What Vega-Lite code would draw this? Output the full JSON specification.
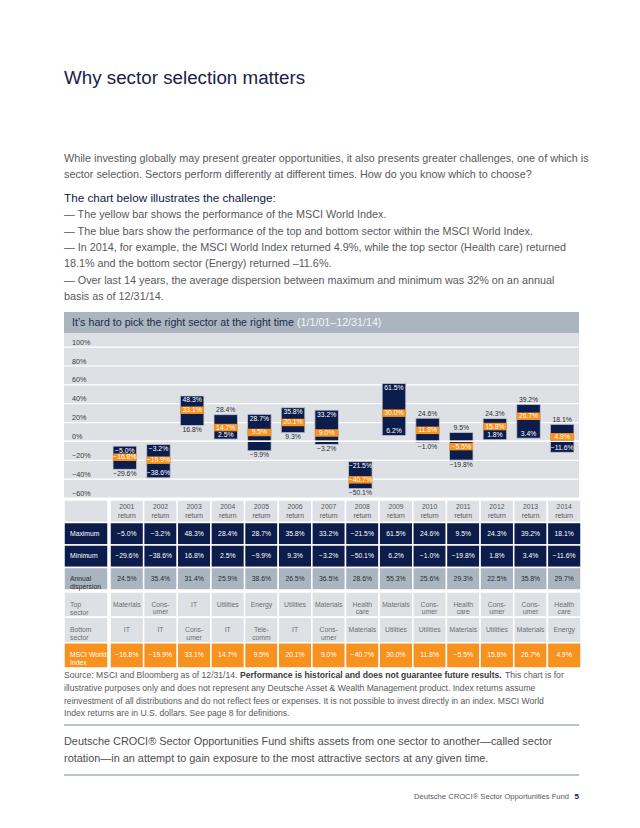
{
 "$schema": "https://vega.github.io/schema/vega-lite/v6.json",
 "background": "#ffffff",
 "padding": {"left": 63, "right": 62, "top": 69, "bottom": 0},
 "spacing": 0,
 "config": {"font": "Liberation Sans", "view": {"stroke": null}, "concat": {"spacing": 0}, "title": {"font": "Liberation Sans", "subtitleFont": "Liberation Sans"}},
 "resolve": {"scale": {"x": "independent", "y": "independent"}},
 "title": {
  "text": "Why sector selection matters",
  "subtitle": ["While investing globally may present greater opportunities, it also presents greater challenges, one of which is", "sector selection. Sectors perform differently at different times. How do you know which to choose?"],
  "anchor": "start", "frame": "group",
  "fontSize": 18.8, "fontWeight": "normal", "color": "#1b2147",
  "subtitleFontSize": 10.8, "subtitleColor": "#58595b", "subtitleLineHeight": 16, "subtitlePadding": 65,
  "offset": 13
 },
 "datasets": {
  "years": [
   {"year": "2001", "max": -0.050, "min": -0.296, "idx": -0.168, "disp": 0.245, "top": "Materials", "bottom": "IT"},
   {"year": "2002", "max": -0.032, "min": -0.386, "idx": -0.199, "disp": 0.354, "top": "Cons-\numer\nstaples", "bottom": "IT"},
   {"year": "2003", "max": 0.483, "min": 0.168, "idx": 0.331, "disp": 0.314, "top": "IT", "bottom": "Cons-\numer\nstaples"},
   {"year": "2004", "max": 0.284, "min": 0.025, "idx": 0.147, "disp": 0.259, "top": "Utilities", "bottom": "IT"},
   {"year": "2005", "max": 0.287, "min": -0.099, "idx": 0.095, "disp": 0.386, "top": "Energy", "bottom": "Tele-\ncomm\nservices"},
   {"year": "2006", "max": 0.358, "min": 0.093, "idx": 0.201, "disp": 0.265, "top": "Utilities", "bottom": "IT"},
   {"year": "2007", "max": 0.332, "min": -0.032, "idx": 0.090, "disp": 0.365, "top": "Materials", "bottom": "Cons-\numer\ndisc."},
   {"year": "2008", "max": -0.215, "min": -0.501, "idx": -0.407, "disp": 0.286, "top": "Health\ncare", "bottom": "Materials"},
   {"year": "2009", "max": 0.615, "min": 0.062, "idx": 0.300, "disp": 0.553, "top": "Materials", "bottom": "Utilities"},
   {"year": "2010", "max": 0.246, "min": -0.010, "idx": 0.118, "disp": 0.256, "top": "Cons-\numer\ndisc.", "bottom": "Utilities"},
   {"year": "2011", "max": 0.095, "min": -0.198, "idx": -0.055, "disp": 0.293, "top": "Health\ncare", "bottom": "Materials"},
   {"year": "2012", "max": 0.243, "min": 0.018, "idx": 0.158, "disp": 0.225, "top": "Cons-\numer\ndisc.", "bottom": "Utilities"},
   {"year": "2013", "max": 0.392, "min": 0.034, "idx": 0.267, "disp": 0.358, "top": "Cons-\numer\ndisc.", "bottom": "Materials"},
   {"year": "2014", "max": 0.181, "min": -0.116, "idx": 0.049, "disp": 0.297, "top": "Health\ncare", "bottom": "Energy"}
  ],
  "ticks": [
   {"v": -0.6}, {"v": -0.4}, {"v": -0.2}, {"v": 0}, {"v": 0.2}, {"v": 0.4}, {"v": 0.6}, {"v": 0.8}, {"v": 1.0}
  ],
  "labels": [
   {"row": "hdr", "label": ""},
   {"row": "max", "label": "Maximum"},
   {"row": "min", "label": "Minimum"},
   {"row": "disp", "label": "Annual\ndispersion"},
   {"row": "top", "label": "Top\nsector"},
   {"row": "bottom", "label": "Bottom\nsector"},
   {"row": "msci", "label": "MSCI World\nIndex"}
  ],
  "band": [
   {"part": "main", "text": "It’s hard to pick the right sector at the right time"},
   {"part": "date", "text": "(1/1/01–12/31/14)"}
  ],
  "source": [
   {"line": 1, "seg": "a", "text": "Source: MSCI and Bloomberg as of 12/31/14."},
   {"line": 1, "seg": "b", "text": "Performance is historical and does not guarantee future results."},
   {"line": 1, "seg": "c", "text": "This chart is for"},
   {"line": 2, "seg": "a", "text": "illustrative purposes only and does not represent any Deutsche Asset & Wealth Management product. Index returns assume"},
   {"line": 3, "seg": "a", "text": "reinvestment of all distributions and do not reflect fees or expenses. It is not possible to invest directly in an index. MSCI World"},
   {"line": 4, "seg": "a", "text": "Index returns are in U.S. dollars. See page 8 for definitions."}
  ],
  "fund": [
   {"line": 1, "text": "Deutsche CROCI® Sector Opportunities Fund shifts assets from one sector to another—called sector"},
   {"line": 2, "text": "rotation—in an attempt to gain exposure to the most attractive sectors at any given time."}
  ],
  "footer": [
   {"part": "name", "text": "Deutsche CROCI® Sector Opportunities Fund"},
   {"part": "page", "text": "5"}
  ]
 },
 "vconcat": [
  {
   "width": 515, "height": 21,
   "view": {"fill": "#aab5bf", "stroke": null},
   "title": {
    "text": "The chart below illustrates the challenge:",
    "subtitle": [
     "— The yellow bar shows the performance of the MSCI World Index.",
     "— The blue bars show the performance of the top and bottom sector within the MSCI World Index.",
     "— In 2014, for example, the MSCI World Index returned 4.9%, while the top sector (Health care) returned",
     "\u2003\u00a018.1% and the bottom sector (Energy) returned –11.6%.",
     "— Over last 14 years, the average dispersion between maximum and minimum was 32% on an annual",
     "\u2003\u00a0basis as of 12/31/14."
    ],
    "anchor": "start",
    "fontSize": 11.7, "fontWeight": "normal", "color": "#0c1a48",
    "subtitleFontSize": 10.8, "subtitleColor": "#58595b", "subtitleLineHeight": 16.4, "subtitlePadding": 4.5,
    "offset": 10
   },
   "data": {"name": "band"},
   "layer": [
    {"transform": [{"filter": "datum.part == 'main'"}],
     "mark": {"type": "text", "align": "left", "baseline": "middle", "fontSize": 10.7, "color": "#1d2b4c"},
     "encoding": {"x": {"value": 8}, "text": {"field": "text"}}},
    {"transform": [{"filter": "datum.part == 'date'"}],
     "mark": {"type": "text", "align": "left", "baseline": "middle", "fontSize": 10.7, "color": "#f2f4f6"},
     "encoding": {"x": {"value": 233}, "text": {"field": "text"}}}
   ]
  },
  {
   "width": 515, "height": 165,
   "view": {"fill": "#dde1e5", "stroke": null},
   "data": {"name": "years"},
   "layer": [
    {"data": {"name": "ticks"},
     "mark": {"type": "rule", "color": "#ffffff", "strokeWidth": 1.2},
     "encoding": {"y": {"field": "v", "type": "quantitative", "scale": {"domain": [-0.6, 1.15], "nice": false, "zero": false}, "axis": null}}},
    {"data": {"name": "ticks"},
     "mark": {"type": "text", "align": "left", "baseline": "alphabetic", "dy": -2.5, "fontSize": 7.2, "color": "#3a3a3a"},
     "encoding": {"x": {"value": 8}, "y": {"field": "v", "type": "quantitative", "scale": {"domain": [-0.6, 1.15], "nice": false, "zero": false}, "axis": null},
      "text": {"field": "v", "type": "quantitative", "format": ".0%"}}},
    {"mark": {"type": "bar", "color": "#0c1c4b", "stroke": "#c3cbd3", "strokeWidth": 0.8},
     "encoding": {
      "x": {"field": "year", "type": "nominal", "scale": {"type": "band", "range": [44, 515], "paddingInner": 0.3, "paddingOuter": 0.15}, "axis": null},
      "y": {"field": "max", "type": "quantitative", "scale": {"domain": [-0.6, 1.15], "nice": false, "zero": false}, "axis": null},
      "y2": {"field": "min"}
     }},
    {"mark": {"type": "rule", "color": "#ffffff", "strokeWidth": 1},
     "encoding": {"y": {"datum": 0, "type": "quantitative", "scale": {"domain": [-0.6, 1.15], "nice": false, "zero": false}}}},
    {"mark": {"type": "tick", "color": "#f7921e", "thickness": 7.5, "size": 23.5, "opacity": 1},
     "encoding": {
      "x": {"field": "year", "type": "nominal", "scale": {"type": "band", "range": [44, 515], "paddingInner": 0.3, "paddingOuter": 0.15}, "axis": null},
      "y": {"field": "idx", "type": "quantitative", "scale": {"domain": [-0.6, 1.15], "nice": false, "zero": false}}
     }},
    {"transform": [{"filter": {"field": "year", "oneOf": ["2001", "2002", "2003", "2005", "2006", "2007", "2008", "2009"]}}],
     "mark": {"type": "text", "baseline": "top", "dy": 1.5, "fontSize": 6.8, "color": "#ffffff"},
     "encoding": {
      "x": {"field": "year", "type": "nominal", "scale": {"type": "band", "range": [44, 515], "paddingInner": 0.3, "paddingOuter": 0.15}, "axis": null},
      "y": {"field": "max", "type": "quantitative", "scale": {"domain": [-0.6, 1.15], "nice": false, "zero": false}},
      "text": {"field": "max", "type": "quantitative", "format": ".1%"}
     }},
    {"transform": [{"filter": {"field": "year", "oneOf": ["2004", "2010", "2011", "2012", "2013", "2014"]}}],
     "mark": {"type": "text", "baseline": "bottom", "dy": -1.5, "fontSize": 6.8, "color": "#2b2b2b"},
     "encoding": {
      "x": {"field": "year", "type": "nominal", "scale": {"type": "band", "range": [44, 515], "paddingInner": 0.3, "paddingOuter": 0.15}, "axis": null},
      "y": {"field": "max", "type": "quantitative", "scale": {"domain": [-0.6, 1.15], "nice": false, "zero": false}},
      "text": {"field": "max", "type": "quantitative", "format": ".1%"}
     }},
    {"transform": [{"filter": {"field": "year", "oneOf": ["2002", "2004", "2009", "2012", "2013", "2014"]}}],
     "mark": {"type": "text", "baseline": "bottom", "dy": -1.5, "fontSize": 6.8, "color": "#ffffff"},
     "encoding": {
      "x": {"field": "year", "type": "nominal", "scale": {"type": "band", "range": [44, 515], "paddingInner": 0.3, "paddingOuter": 0.15}, "axis": null},
      "y": {"field": "min", "type": "quantitative", "scale": {"domain": [-0.6, 1.15], "nice": false, "zero": false}},
      "text": {"field": "min", "type": "quantitative", "format": ".1%"}
     }},
    {"transform": [{"filter": {"field": "year", "oneOf": ["2001", "2003", "2005", "2006", "2007", "2008", "2010", "2011"]}}],
     "mark": {"type": "text", "baseline": "top", "dy": 1.5, "fontSize": 6.8, "color": "#2b2b2b"},
     "encoding": {
      "x": {"field": "year", "type": "nominal", "scale": {"type": "band", "range": [44, 515], "paddingInner": 0.3, "paddingOuter": 0.15}, "axis": null},
      "y": {"field": "min", "type": "quantitative", "scale": {"domain": [-0.6, 1.15], "nice": false, "zero": false}},
      "text": {"field": "min", "type": "quantitative", "format": ".1%"}
     }},
    {"mark": {"type": "text", "baseline": "middle", "fontSize": 6.8, "color": "#ffffff"},
     "encoding": {
      "x": {"field": "year", "type": "nominal", "scale": {"type": "band", "range": [44, 515], "paddingInner": 0.3, "paddingOuter": 0.15}, "axis": null},
      "y": {"field": "idx", "type": "quantitative", "scale": {"domain": [-0.6, 1.15], "nice": false, "zero": false}},
      "text": {"field": "idx", "type": "quantitative", "format": ".1%"}
     }}
   ]
  },
  {
   "hconcat": [
    {
     "width": 44, "height": 90,
     "data": {"name": "labels"},
     "transform": [{"filter": {"field": "row", "oneOf": ["hdr", "max", "min", "disp"]}}],
     "layer": [
      {"mark": {"type": "rect", "stroke": "#ffffff", "strokeWidth": 1.5},
       "encoding": {
        "x": {"datum": "c", "type": "nominal", "scale": {"domain": ["c"], "paddingInner": 0, "paddingOuter": 0}, "axis": null},
        "y": {"field": "row", "type": "nominal", "scale": {"domain": ["hdr", "max", "min", "disp"], "paddingInner": 0, "paddingOuter": 0}, "axis": null},
        "fill": {"field": "row", "type": "nominal", "scale": {"domain": ["hdr", "max", "min", "disp", "top", "bottom", "msci"], "range": ["#dde1e5", "#0c1c4b", "#0c1c4b", "#aab5bf", "#dde1e5", "#dde1e5", "#f7921e"]}, "legend": null}
       }},
      {"mark": {"type": "text", "align": "left", "baseline": "middle", "dx": 6, "fontSize": 6.8, "lineBreak": "\n", "lineHeight": 8},
       "encoding": {
        "x": {"datum": "c", "type": "nominal", "bandPosition": 0, "scale": {"domain": ["c"], "paddingInner": 0, "paddingOuter": 0}, "axis": null},
        "y": {"field": "row", "type": "nominal", "scale": {"domain": ["hdr", "max", "min", "disp"], "paddingInner": 0, "paddingOuter": 0}, "axis": null},
        "text": {"field": "label"},
        "color": {"field": "row", "type": "nominal", "scale": {"domain": ["hdr", "max", "min", "disp", "top", "bottom", "msci"], "range": ["#555555", "#ffffff", "#ffffff", "#2b2b2b", "#6d6e71", "#6d6e71", "#ffffff"]}, "legend": null}
       }}
     ]
    },
    {
     "width": 471, "height": 90,
     "data": {"name": "years"},
     "layer": [
      {"mark": {"type": "rect", "fill": "#dde1e5", "stroke": "#ffffff", "strokeWidth": 1.5},
       "encoding": {
        "x": {"field": "year", "type": "nominal", "scale": {"paddingInner": 0, "paddingOuter": 0}, "axis": null},
        "y": {"datum": "hdr", "type": "nominal", "scale": {"domain": ["hdr", "max", "min", "disp"], "paddingInner": 0, "paddingOuter": 0}, "axis": null}}},
      {"mark": {"type": "text", "baseline": "middle", "dy": -4, "fontSize": 6.8, "color": "#555555"},
       "encoding": {
        "x": {"field": "year", "type": "nominal", "scale": {"paddingInner": 0, "paddingOuter": 0}, "axis": null},
        "y": {"datum": "hdr", "type": "nominal", "scale": {"domain": ["hdr", "max", "min", "disp"], "paddingInner": 0, "paddingOuter": 0}, "axis": null},
        "text": {"field": "year"}}},
      {"mark": {"type": "text", "baseline": "middle", "dy": 4.5, "fontSize": 6.8, "color": "#555555"},
       "encoding": {
        "x": {"field": "year", "type": "nominal", "scale": {"paddingInner": 0, "paddingOuter": 0}, "axis": null},
        "y": {"datum": "hdr", "type": "nominal", "scale": {"domain": ["hdr", "max", "min", "disp"], "paddingInner": 0, "paddingOuter": 0}, "axis": null},
        "text": {"value": "return"}}},
      {"mark": {"type": "rect", "fill": "#0c1c4b", "stroke": "#ffffff", "strokeWidth": 1.5},
       "encoding": {
        "x": {"field": "year", "type": "nominal", "scale": {"paddingInner": 0, "paddingOuter": 0}, "axis": null},
        "y": {"datum": "max", "type": "nominal", "scale": {"domain": ["hdr", "max", "min", "disp"], "paddingInner": 0, "paddingOuter": 0}, "axis": null}}},
      {"mark": {"type": "text", "baseline": "middle", "fontSize": 6.8, "color": "#ffffff"},
       "encoding": {
        "x": {"field": "year", "type": "nominal", "scale": {"paddingInner": 0, "paddingOuter": 0}, "axis": null},
        "y": {"datum": "max", "type": "nominal", "scale": {"domain": ["hdr", "max", "min", "disp"], "paddingInner": 0, "paddingOuter": 0}, "axis": null},
        "text": {"field": "max", "type": "quantitative", "format": ".1%"}}},
      {"mark": {"type": "rect", "fill": "#0c1c4b", "stroke": "#ffffff", "strokeWidth": 1.5},
       "encoding": {
        "x": {"field": "year", "type": "nominal", "scale": {"paddingInner": 0, "paddingOuter": 0}, "axis": null},
        "y": {"datum": "min", "type": "nominal", "scale": {"domain": ["hdr", "max", "min", "disp"], "paddingInner": 0, "paddingOuter": 0}, "axis": null}}},
      {"mark": {"type": "text", "baseline": "middle", "fontSize": 6.8, "color": "#ffffff"},
       "encoding": {
        "x": {"field": "year", "type": "nominal", "scale": {"paddingInner": 0, "paddingOuter": 0}, "axis": null},
        "y": {"datum": "min", "type": "nominal", "scale": {"domain": ["hdr", "max", "min", "disp"], "paddingInner": 0, "paddingOuter": 0}, "axis": null},
        "text": {"field": "min", "type": "quantitative", "format": ".1%"}}},
      {"mark": {"type": "rect", "fill": "#aab5bf", "stroke": "#ffffff", "strokeWidth": 1.5},
       "encoding": {
        "x": {"field": "year", "type": "nominal", "scale": {"paddingInner": 0, "paddingOuter": 0}, "axis": null},
        "y": {"datum": "disp", "type": "nominal", "scale": {"domain": ["hdr", "max", "min", "disp"], "paddingInner": 0, "paddingOuter": 0}, "axis": null}}},
      {"mark": {"type": "text", "baseline": "middle", "fontSize": 6.8, "color": "#2b2b2b"},
       "encoding": {
        "x": {"field": "year", "type": "nominal", "scale": {"paddingInner": 0, "paddingOuter": 0}, "axis": null},
        "y": {"datum": "disp", "type": "nominal", "scale": {"domain": ["hdr", "max", "min", "disp"], "paddingInner": 0, "paddingOuter": 0}, "axis": null},
        "text": {"field": "disp", "type": "quantitative", "format": ".1%"}}}
     ]
    }
   ],
   "spacing": 0,
   "resolve": {"scale": {"x": "independent", "y": "independent"}}
  },
  {
   "hconcat": [
    {
     "width": 44, "height": 76,
     "data": {"name": "labels"},
     "transform": [{"filter": {"field": "row", "oneOf": ["top", "bottom", "msci"]}}],
     "layer": [
      {"mark": {"type": "rect", "stroke": "#ffffff", "strokeWidth": 1.5},
       "encoding": {
        "x": {"datum": "c", "type": "nominal", "scale": {"domain": ["c"], "paddingInner": 0, "paddingOuter": 0}, "axis": null},
        "y": {"field": "row", "type": "nominal", "scale": {"domain": ["top", "bottom", "msci"], "paddingInner": 0, "paddingOuter": 0}, "axis": null},
        "fill": {"field": "row", "type": "nominal", "scale": {"domain": ["hdr", "max", "min", "disp", "top", "bottom", "msci"], "range": ["#dde1e5", "#0c1c4b", "#0c1c4b", "#aab5bf", "#dde1e5", "#dde1e5", "#f7921e"]}, "legend": null}
       }},
      {"mark": {"type": "text", "align": "left", "baseline": "middle", "dx": 6, "fontSize": 6.8, "lineBreak": "\n", "lineHeight": 8},
       "encoding": {
        "x": {"datum": "c", "type": "nominal", "bandPosition": 0, "scale": {"domain": ["c"], "paddingInner": 0, "paddingOuter": 0}, "axis": null},
        "y": {"field": "row", "type": "nominal", "scale": {"domain": ["top", "bottom", "msci"], "paddingInner": 0, "paddingOuter": 0}, "axis": null},
        "text": {"field": "label"},
        "color": {"field": "row", "type": "nominal", "scale": {"domain": ["hdr", "max", "min", "disp", "top", "bottom", "msci"], "range": ["#555555", "#ffffff", "#ffffff", "#2b2b2b", "#6d6e71", "#6d6e71", "#ffffff"]}, "legend": null}
       }}
     ]
    },
    {
     "width": 471, "height": 76,
     "data": {"name": "years"},
     "layer": [
      {"mark": {"type": "rect", "fill": "#dde1e5", "stroke": "#ffffff", "strokeWidth": 1.5},
       "encoding": {
        "x": {"field": "year", "type": "nominal", "scale": {"paddingInner": 0, "paddingOuter": 0}, "axis": null},
        "y": {"datum": "top", "type": "nominal", "scale": {"domain": ["top", "bottom", "msci"], "paddingInner": 0, "paddingOuter": 0}, "axis": null}}},
      {"mark": {"type": "text", "baseline": "middle", "fontSize": 6.8, "color": "#6d6e71", "lineBreak": "\n", "lineHeight": 7.8},
       "encoding": {
        "x": {"field": "year", "type": "nominal", "scale": {"paddingInner": 0, "paddingOuter": 0}, "axis": null},
        "y": {"datum": "top", "type": "nominal", "scale": {"domain": ["top", "bottom", "msci"], "paddingInner": 0, "paddingOuter": 0}, "axis": null},
        "text": {"field": "top"}}},
      {"mark": {"type": "rect", "fill": "#dde1e5", "stroke": "#ffffff", "strokeWidth": 1.5},
       "encoding": {
        "x": {"field": "year", "type": "nominal", "scale": {"paddingInner": 0, "paddingOuter": 0}, "axis": null},
        "y": {"datum": "bottom", "type": "nominal", "scale": {"domain": ["top", "bottom", "msci"], "paddingInner": 0, "paddingOuter": 0}, "axis": null}}},
      {"mark": {"type": "text", "baseline": "middle", "fontSize": 6.8, "color": "#6d6e71", "lineBreak": "\n", "lineHeight": 7.8},
       "encoding": {
        "x": {"field": "year", "type": "nominal", "scale": {"paddingInner": 0, "paddingOuter": 0}, "axis": null},
        "y": {"datum": "bottom", "type": "nominal", "scale": {"domain": ["top", "bottom", "msci"], "paddingInner": 0, "paddingOuter": 0}, "axis": null},
        "text": {"field": "bottom"}}},
      {"mark": {"type": "rect", "fill": "#f7921e", "stroke": "#ffffff", "strokeWidth": 1.5},
       "encoding": {
        "x": {"field": "year", "type": "nominal", "scale": {"paddingInner": 0, "paddingOuter": 0}, "axis": null},
        "y": {"datum": "msci", "type": "nominal", "scale": {"domain": ["top", "bottom", "msci"], "paddingInner": 0, "paddingOuter": 0}, "axis": null}}},
      {"mark": {"type": "text", "baseline": "middle", "fontSize": 6.8, "color": "#ffffff"},
       "encoding": {
        "x": {"field": "year", "type": "nominal", "scale": {"paddingInner": 0, "paddingOuter": 0}, "axis": null},
        "y": {"datum": "msci", "type": "nominal", "scale": {"domain": ["top", "bottom", "msci"], "paddingInner": 0, "paddingOuter": 0}, "axis": null},
        "text": {"field": "idx", "type": "quantitative", "format": ".1%"}}}
     ]
    }
   ],
   "spacing": 0,
   "resolve": {"scale": {"x": "independent", "y": "independent"}}
  },
  {
   "width": 515, "height": 52,
   "data": {"name": "source"},
   "layer": [
    {"transform": [{"filter": "datum.seg == 'a'"}],
     "mark": {"type": "text", "align": "left", "baseline": "middle", "fontSize": 8.6, "color": "#58595b"},
     "encoding": {"x": {"value": 0}, "y": {"field": "line", "type": "ordinal", "scale": {"type": "band", "domain": [1, 2, 3, 4], "paddingInner": 0, "paddingOuter": 0.047, "align": 0}, "axis": null}, "text": {"field": "text"}}},
    {"transform": [{"filter": "datum.seg == 'b'"}],
     "mark": {"type": "text", "align": "left", "baseline": "middle", "fontSize": 8.6, "fontWeight": "bold", "color": "#3a3a3a"},
     "encoding": {"x": {"value": 176}, "y": {"field": "line", "type": "ordinal", "scale": {"type": "band", "domain": [1, 2, 3, 4], "paddingInner": 0, "paddingOuter": 0.047, "align": 0}, "axis": null}, "text": {"field": "text"}}},
    {"transform": [{"filter": "datum.seg == 'c'"}],
     "mark": {"type": "text", "align": "left", "baseline": "middle", "fontSize": 8.6, "color": "#58595b"},
     "encoding": {"x": {"value": 441}, "y": {"field": "line", "type": "ordinal", "scale": {"type": "band", "domain": [1, 2, 3, 4], "paddingInner": 0, "paddingOuter": 0.047, "align": 0}, "axis": null}, "text": {"field": "text"}}}
   ]
  },
  {
   "width": 515, "height": 55,
   "data": {"name": "fund"},
   "layer": [
    {"mark": {"type": "rule", "color": "#b9c3cc", "strokeWidth": 2}, "encoding": {"y": {"value": 4}}},
    {"mark": {"type": "rule", "color": "#b9c3cc", "strokeWidth": 2}, "encoding": {"y": {"value": 54}}},
    {"mark": {"type": "text", "align": "left", "baseline": "middle", "fontSize": 10.9, "color": "#4d4d4f"},
     "encoding": {"x": {"value": 0}, "y": {"field": "line", "type": "ordinal", "scale": {"type": "band", "domain": [1, 2], "paddingInner": 0, "paddingOuter": 0.6176, "align": 0.595}, "axis": null}, "text": {"field": "text"}}}
   ]
  },
  {
   "width": 515, "height": 42,
   "data": {"name": "footer"},
   "layer": [
    {"transform": [{"filter": "datum.part == 'name'"}],
     "mark": {"type": "text", "align": "right", "baseline": "middle", "fontSize": 7.6, "color": "#58595b"},
     "encoding": {"x": {"value": 505}, "text": {"field": "text"}}},
    {"transform": [{"filter": "datum.part == 'page'"}],
     "mark": {"type": "text", "align": "right", "baseline": "middle", "fontSize": 8, "fontWeight": "bold", "color": "#0c1c4b"},
     "encoding": {"x": {"value": 515}, "text": {"field": "text"}}}
   ]
  }
 ]
}
